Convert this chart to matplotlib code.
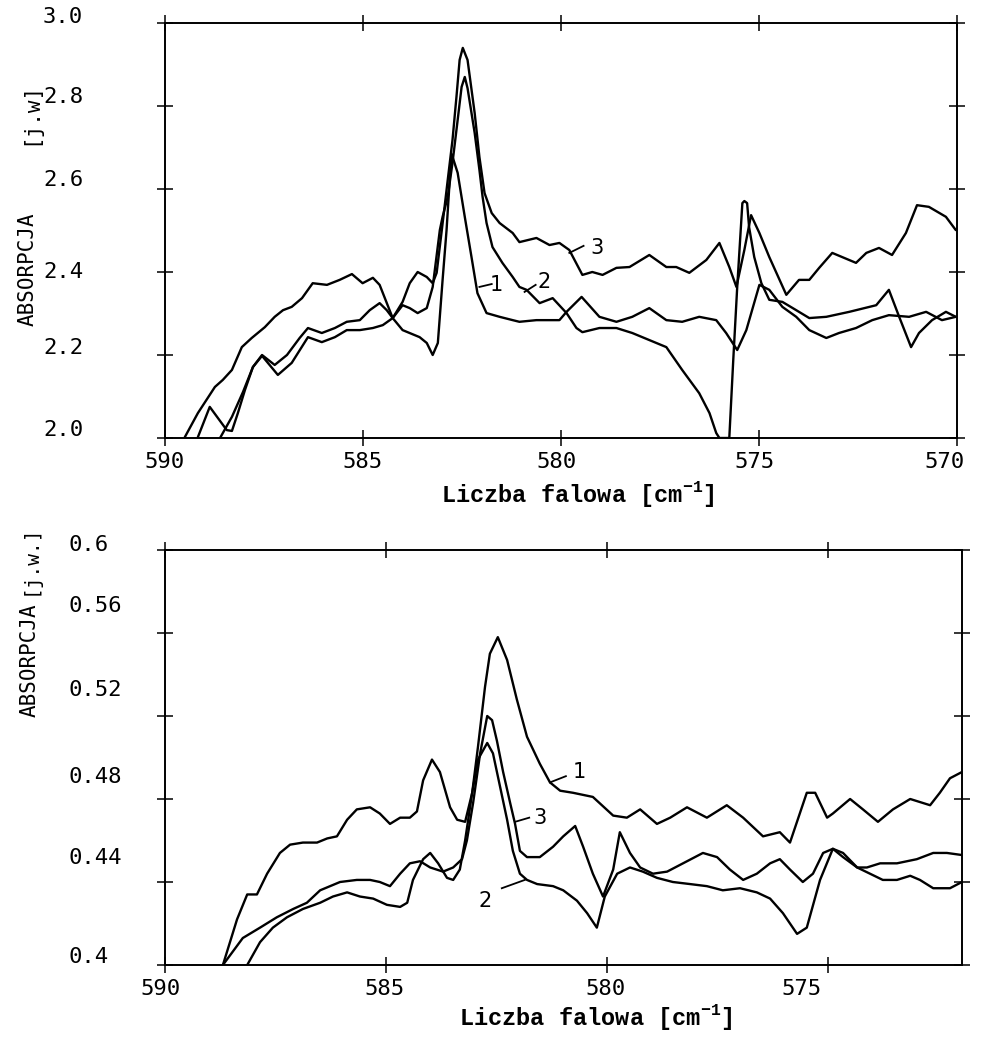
import matplotlib
matplotlib.use("Agg")
import matplotlib.pyplot as plt

plt.rcParams['mathtext.fontset'] = 'custom'
plt.rcParams['mathtext.rm'] = 'Liberation Mono'
plt.rcParams['mathtext.bf'] = 'Liberation Mono:bold'

# gorny wykres: liczba falowa [cm-1], absorpcja [j.w]
top1 = [(589.50, 2.002), (589.17, 2.060), (588.74, 2.123), (588.54, 2.140), (588.31, 2.164),
        (588.06, 2.219), (587.81, 2.241), (587.48, 2.267), (587.23, 2.292), (587.02, 2.308),
        (586.80, 2.316), (586.54, 2.337), (586.27, 2.373), (585.91, 2.369), (585.59, 2.381),
        (585.28, 2.395), (585.01, 2.373), (584.75, 2.386), (584.58, 2.369), (584.25, 2.289),
        (584.00, 2.260), (583.57, 2.243), (583.39, 2.229), (583.24, 2.200), (583.11, 2.229),
        (582.99, 2.381), (582.89, 2.501), (582.81, 2.622), (582.76, 2.684), (582.61, 2.639),
        (582.43, 2.533), (582.26, 2.436), (582.11, 2.349), (581.88, 2.301), (581.55, 2.292),
        (581.22, 2.284), (581.05, 2.280), (580.62, 2.284), (580.29, 2.284), (580.04, 2.284),
        (579.86, 2.304), (579.48, 2.340), (579.03, 2.292), (578.60, 2.280), (578.20, 2.292),
        (577.77, 2.313), (577.34, 2.284), (576.94, 2.280), (576.51, 2.292), (576.08, 2.284),
        (575.83, 2.253), (575.55, 2.212), (575.32, 2.260), (574.99, 2.369), (574.74, 2.357),
        (574.41, 2.316), (574.06, 2.292), (573.73, 2.260), (573.30, 2.241), (572.98, 2.253),
        (572.55, 2.265), (572.14, 2.284), (571.72, 2.296), (571.21, 2.292), (570.78, 2.304),
        (570.38, 2.284), (570.03, 2.292)]
top2 = [(588.61, 2.000), (588.31, 2.051), (588.03, 2.111), (587.78, 2.171), (587.55, 2.198),
        (587.15, 2.152), (586.80, 2.181), (586.39, 2.243), (586.04, 2.231), (585.71, 2.243),
        (585.41, 2.260), (585.08, 2.260), (584.75, 2.265), (584.50, 2.272), (584.25, 2.289),
        (584.00, 2.320), (583.82, 2.313), (583.62, 2.301), (583.39, 2.313), (583.24, 2.364),
        (583.06, 2.501), (582.99, 2.533), (582.86, 2.581), (582.74, 2.663), (582.61, 2.766),
        (582.51, 2.846), (582.43, 2.870), (582.36, 2.843), (582.18, 2.735), (582.06, 2.646),
        (581.98, 2.581), (581.88, 2.518), (581.73, 2.460), (581.48, 2.422), (581.22, 2.388),
        (581.05, 2.364), (580.87, 2.357), (580.54, 2.325), (580.21, 2.337), (579.86, 2.301),
        (579.61, 2.265), (579.46, 2.255), (579.03, 2.265), (578.60, 2.265), (578.20, 2.253),
        (577.77, 2.236), (577.34, 2.219), (576.94, 2.164), (576.51, 2.108), (576.25, 2.060),
        (576.08, 2.012), (576.00, 2.000), (575.75, 2.000), (575.65, 2.188), (575.55, 2.364),
        (575.42, 2.566), (575.37, 2.571), (575.30, 2.566), (575.25, 2.508), (575.12, 2.436),
        (574.94, 2.373), (574.74, 2.333), (574.41, 2.328), (574.06, 2.308), (573.73, 2.289),
        (573.30, 2.292), (572.72, 2.304), (572.04, 2.320), (571.72, 2.357), (571.46, 2.292),
        (571.16, 2.219), (570.96, 2.253), (570.63, 2.284), (570.28, 2.304), (570.03, 2.292)]
top3 = [(589.17, 2.002), (588.87, 2.075), (588.44, 2.019), (588.31, 2.017), (588.16, 2.060),
        (587.98, 2.116), (587.78, 2.171), (587.55, 2.200), (587.23, 2.176), (586.92, 2.200),
        (586.60, 2.241), (586.39, 2.265), (586.04, 2.253), (585.71, 2.265), (585.41, 2.280),
        (585.08, 2.284), (584.83, 2.308), (584.58, 2.325), (584.40, 2.308), (584.25, 2.289),
        (584.00, 2.328), (583.82, 2.373), (583.62, 2.400), (583.39, 2.388), (583.24, 2.373),
        (583.14, 2.398), (583.01, 2.501), (582.94, 2.557), (582.86, 2.622), (582.74, 2.718),
        (582.64, 2.822), (582.56, 2.911), (582.48, 2.940), (582.36, 2.911), (582.18, 2.783),
        (582.06, 2.677), (581.93, 2.590), (581.75, 2.542), (581.55, 2.518), (581.22, 2.494),
        (581.05, 2.472), (580.62, 2.482), (580.29, 2.465), (580.04, 2.470), (579.79, 2.453),
        (579.46, 2.393), (579.21, 2.400), (578.95, 2.393), (578.60, 2.410), (578.27, 2.412),
        (577.77, 2.441), (577.34, 2.412), (577.09, 2.412), (576.76, 2.398), (576.33, 2.429),
        (576.00, 2.470), (575.75, 2.412), (575.57, 2.364), (575.37, 2.453), (575.20, 2.537),
        (574.99, 2.494), (574.74, 2.436), (574.31, 2.345), (573.99, 2.381), (573.73, 2.381),
        (573.48, 2.410), (573.15, 2.446), (572.90, 2.436), (572.55, 2.422), (572.29, 2.446),
        (571.97, 2.458), (571.64, 2.441), (571.29, 2.494), (571.01, 2.561), (570.71, 2.557),
        (570.28, 2.533), (570.03, 2.501)]

# dolny wykres
bot1 = [(588.69, 0.400), (588.37, 0.422), (588.14, 0.434), (587.92, 0.434), (587.69, 0.444),
        (587.40, 0.454), (587.17, 0.458), (586.88, 0.459), (586.56, 0.459), (586.33, 0.461),
        (586.11, 0.462), (585.88, 0.470), (585.66, 0.475), (585.36, 0.476), (585.14, 0.473),
        (584.91, 0.468), (584.68, 0.471), (584.46, 0.471), (584.30, 0.474), (584.16, 0.489),
        (583.96, 0.499), (583.78, 0.493), (583.55, 0.476), (583.39, 0.470), (583.21, 0.469),
        (583.05, 0.483), (582.92, 0.505), (582.76, 0.534), (582.65, 0.550), (582.47, 0.558),
        (582.26, 0.547), (582.04, 0.528), (581.81, 0.510), (581.52, 0.497), (581.29, 0.488),
        (581.06, 0.484), (580.77, 0.483), (580.32, 0.481), (579.86, 0.472), (579.55, 0.471),
        (579.25, 0.475), (578.87, 0.468), (578.57, 0.471), (578.19, 0.476), (577.74, 0.471),
        (577.29, 0.477), (576.92, 0.471), (576.47, 0.462), (576.09, 0.464), (575.86, 0.459),
        (575.48, 0.483), (575.29, 0.483), (575.02, 0.471), (574.89, 0.473), (574.50, 0.480),
        (574.21, 0.475), (573.87, 0.469), (573.53, 0.475), (573.14, 0.480), (572.69, 0.477),
        (572.47, 0.483), (572.24, 0.490), (571.97, 0.493)]
bot2 = [(588.14, 0.400), (587.85, 0.411), (587.56, 0.418), (587.24, 0.423), (586.88, 0.427),
        (586.49, 0.430), (586.20, 0.433), (585.88, 0.435), (585.59, 0.433), (585.29, 0.432),
        (584.98, 0.429), (584.68, 0.428), (584.52, 0.430), (584.39, 0.441), (584.16, 0.451),
        (584.00, 0.454), (583.82, 0.449), (583.62, 0.442), (583.48, 0.441), (583.33, 0.446),
        (583.21, 0.460), (583.05, 0.483), (582.92, 0.499), (582.71, 0.507), (582.58, 0.502),
        (582.42, 0.486), (582.26, 0.470), (582.13, 0.455), (581.97, 0.444), (581.81, 0.441),
        (581.58, 0.439), (581.22, 0.438), (580.99, 0.436), (580.68, 0.431), (580.45, 0.425),
        (580.23, 0.418), (580.05, 0.433), (579.77, 0.444), (579.48, 0.447), (579.19, 0.445),
        (578.87, 0.442), (578.51, 0.440), (578.12, 0.439), (577.74, 0.438), (577.38, 0.436),
        (576.99, 0.437), (576.61, 0.435), (576.31, 0.432), (576.02, 0.425), (575.70, 0.415),
        (575.48, 0.418), (575.18, 0.441), (574.89, 0.456), (574.66, 0.454), (574.34, 0.447),
        (574.12, 0.447), (573.82, 0.449), (573.44, 0.449), (572.99, 0.451), (572.62, 0.454),
        (572.31, 0.454), (571.97, 0.453)]
bot3 = [(588.69, 0.400), (588.24, 0.413), (587.85, 0.418), (587.47, 0.423), (587.10, 0.427),
        (586.79, 0.430), (586.49, 0.436), (586.04, 0.440), (585.66, 0.441), (585.36, 0.441),
        (585.14, 0.440), (584.91, 0.438), (584.68, 0.444), (584.46, 0.449), (584.23, 0.450),
        (584.00, 0.447), (583.71, 0.445), (583.48, 0.447), (583.28, 0.451), (583.17, 0.460),
        (583.03, 0.478), (582.87, 0.502), (582.71, 0.520), (582.60, 0.518), (582.49, 0.508),
        (582.35, 0.493), (582.19, 0.478), (582.08, 0.468), (581.97, 0.455), (581.81, 0.452),
        (581.52, 0.452), (581.22, 0.457), (580.99, 0.462), (580.72, 0.467), (580.54, 0.457),
        (580.32, 0.444), (580.09, 0.433), (579.86, 0.446), (579.71, 0.464), (579.48, 0.454),
        (579.25, 0.447), (578.96, 0.444), (578.64, 0.445), (578.28, 0.449), (577.83, 0.454),
        (577.51, 0.452), (577.22, 0.446), (576.92, 0.441), (576.61, 0.444), (576.31, 0.449),
        (576.09, 0.451), (575.86, 0.446), (575.57, 0.440), (575.34, 0.444), (575.11, 0.454),
        (574.89, 0.456), (574.66, 0.452), (574.34, 0.447), (574.05, 0.444), (573.76, 0.441),
        (573.44, 0.441), (573.14, 0.443), (572.92, 0.441), (572.62, 0.437), (572.24, 0.437),
        (571.97, 0.440)]

top_xticks = [590, 585, 580, 575, 570]
top_yticks = [2.0, 2.2, 2.4, 2.6, 2.8, 3.0]
bot_xticks = [590, 585, 580, 575]
bot_yticks = [0.4, 0.44, 0.48, 0.52, 0.56, 0.6]
top_ylabels = ['2.0', '2.2', '2.4', '2.6', '2.8', '3.0']
bot_ylabels = ['0.4', '0.44', '0.48', '0.52', '0.56', '0.6']

# numer krzywej: (tekst, punkt tekstu, poczatek i koniec kreski)
top_marks = [('1', (581.63, 2.369), (582.06, 2.364), (581.75, 2.371)),
             ('2', (580.42, 2.376), (580.92, 2.352), (580.64, 2.369)),
             ('3', (579.10, 2.458), (579.79, 2.446), (579.43, 2.463))]
bot_marks = [('1', (580.63, 0.493), (581.29, 0.488), (580.93, 0.491)),
             ('3', (581.52, 0.471), (582.08, 0.469), (581.76, 0.471)),
             ('2', (582.76, 0.431), (582.38, 0.437), (581.86, 0.441))]

W, H = 991, 1040
MONO = 'DejaVu Sans Mono'
fig = plt.figure(figsize=(W / 100, H / 100), dpi=100)
fig.patch.set_facecolor('white')


def px(x, y):
    return x / W, 1 - y / H


def panel(rect, curves, xlim, ylim, xticks, yticks, ylabels, ydx, ydy, xdx, marks):
    ax = fig.add_axes(rect)
    for c in curves:
        ax.plot([p[0] for p in c], [p[1] for p in c], color='black', lw=1.7,
                solid_joinstyle='round', solid_capstyle='round')
    ax.set_xlim(*xlim)
    ax.set_ylim(*ylim)
    ax.set_xticks(xticks)
    ax.set_yticks(yticks)
    ax.tick_params(direction='inout', length=11.5, width=1.1, top=True, right=True,
                   labelleft=False, labelbottom=False)
    for s in ax.spines.values():
        s.set_linewidth(1.4)
    for v, lab, dy in zip(yticks, ylabels, ydy):
        ax.annotate(lab, xy=(0, v), xycoords=ax.get_yaxis_transform(),
                    xytext=(ydx, dy), textcoords='offset pixels',
                    ha='left', va='center', fontsize=16, family=MONO,
                    annotation_clip=False)
    for v, dx in zip(xticks, xdx):
        ax.annotate(str(v), xy=(v, 0), xycoords=ax.get_xaxis_transform(),
                    xytext=(dx, -24), textcoords='offset pixels',
                    ha='center', va='center', fontsize=16, family=MONO,
                    annotation_clip=False)
    for t, pt, a, b in marks:
        ax.plot([a[0], b[0]], [a[1], b[1]], color='black', lw=1.3)
        ax.text(pt[0], pt[1], t, ha='center', va='center', fontsize=15)
    return ax


panel([165 / W, 1 - 438 / H, 792 / W, 415 / H], [top1, top2, top3],
      (590, 570), (2.0, 3.0), top_xticks, top_yticks, top_ylabels,
      -122, [8, 7, 0, 9, 9, 6], [0, 0, -5, -4, -12], top_marks)

panel([165 / W, 1 - 965 / H, 797 / W, 415 / H], [bot1, bot2, bot3],
      (590, 590 - 797 / 44.2), (0.4, 0.6), bot_xticks, bot_yticks, bot_ylabels,
      -97, [8, 24, 22, 26, 27, 5], [-4, -2, -2, -27], bot_marks)

# opisy osi
xlab = r'Liczba falowa [cm$^{\mathbf{-1}}$]'
fig.text(*px(578, 494), xlab, ha='center', va='center', fontsize=17,
         family='Liberation Mono', weight='bold')
fig.text(*px(596, 1017), xlab, ha='center', va='center', fontsize=17,
         family='Liberation Mono', weight='bold')
fig.text(*px(28, 269), 'ABSORPCJA', rotation=90, ha='center', va='center',
         fontsize=15, family=MONO)
fig.text(*px(30, 113), '[j.w]', rotation=90, ha='center', va='center',
         fontsize=15, family=MONO)
fig.text(*px(30, 660), 'ABSORPCJA', rotation=90, ha='center', va='center',
         fontsize=15, family=MONO)
fig.text(*px(30, 560), '[j.w.]', rotation=90, ha='center', va='center',
         fontsize=14, family=MONO)

fig.savefig('out.png', dpi=100, facecolor='white')
